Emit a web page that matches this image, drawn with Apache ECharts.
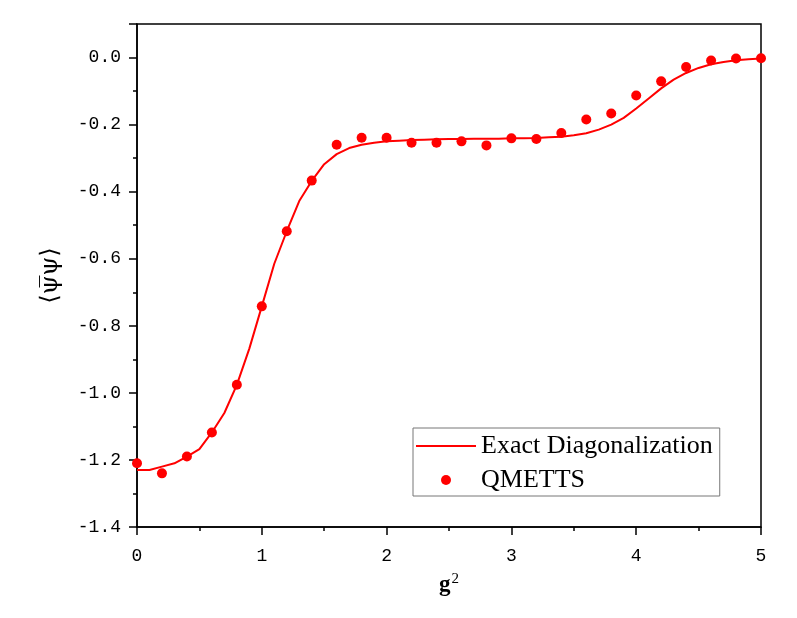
<!DOCTYPE html>
<html>
<head>
<meta charset="utf-8">
<script src="https://cdn.jsdelivr.net/npm/echarts@6/dist/echarts.min.js"></script>
<style>
  html, body { margin: 0; padding: 0; background: #fff; }
  #chart { width: 797px; height: 618px; }
</style>
</head>
<body>
<div id="chart"></div>
<script>
// Exact Diagonalization curve (g^2 step 0.1)
var edX = [];
for (var i = 0; i <= 50; i++) edX.push(+(i * 0.1).toFixed(1));
var edY = [
  -1.230, -1.230, -1.220, -1.210, -1.190, -1.168, -1.118, -1.060, -0.976, -0.868,
  -0.742, -0.615, -0.518, -0.428, -0.368, -0.318, -0.288, -0.270, -0.260, -0.254,
  -0.250, -0.248, -0.246, -0.245, -0.244, -0.243, -0.243, -0.242, -0.242, -0.242,
  -0.241, -0.241, -0.240, -0.238, -0.236, -0.232, -0.226, -0.215, -0.200, -0.180,
  -0.152, -0.122, -0.092, -0.066, -0.046, -0.031, -0.020, -0.013, -0.008, -0.005,
  -0.003
];

// QMETTS points (g^2 step 0.2)
var qmX = [];
for (var j = 0; j <= 25; j++) qmX.push(+(j * 0.2).toFixed(1));
var qmY = [
  -1.210, -1.240, -1.190, -1.118, -0.976, -0.742, -0.518, -0.367, -0.260, -0.239,
  -0.239, -0.254, -0.254, -0.250, -0.262, -0.241, -0.243, -0.225, -0.185, -0.167,
  -0.113, -0.071, -0.028, -0.009, -0.003, -0.002
];

var yTicks = [-1.4, -1.2, -1.0, -0.8, -0.6, -0.4, -0.2, 0.0];

var edData = edX.map(function (x, k) { return [x, edY[k]] })
var qmData = qmX.map(function (x, k) { return [x, qmY[k]] })

var myChart = echarts.init(document.getElementById('chart'))
var option = {
  animation: false,
  backgroundColor: '#fff',
  grid: {
    left: 137, right: 36, top: 24, bottom: 91,
    show: true,
    borderColor: '#000',
    borderWidth: 1.5
  },
  legend: {
    orient: 'vertical',
    left: 413,
    top: 428,
    padding: [5, 7, 3, 3],
    itemGap: 8,
    itemWidth: 60,
    itemHeight: 10,
    borderColor: '#777',
    borderWidth: 1,
    borderRadius: 0,
    textStyle: {
      fontFamily: 'Liberation Serif',
      fontSize: 26,
      color: '#000',
      lineHeight: 26
    },
    data: [
      { name: 'Exact Diagonalization', icon: 'path://M0,0 L60,0 L60,2 L0,2 Z' },
      { name: 'QMETTS', icon: 'circle' }
    ]
  },
  xAxis: {
    type: 'value',
    min: 0,
    max: 5,
    interval: 1,
    name: '{g|g}{s|2}',
    nameLocation: 'middle',
    nameGap: 45,
    nameTextStyle: {
      color: '#000',
      rich: {
        g: { fontFamily: 'Liberation Serif', fontSize: 23, fontWeight: 'bold', color: '#000' },
        s: { fontFamily: 'Liberation Serif', fontSize: 15, color: '#000', verticalAlign: 'bottom', padding: [0, 0, 12, 1] }
      }
    },
    axisLine: { onZero: false, lineStyle: { color: '#000', width: 1.5 } },
    axisTick: { inside: false, length: 8, lineStyle: { color: '#000', width: 1.5 } },
    minorTick: { show: true, splitNumber: 2, length: 4, lineStyle: { color: '#000', width: 1.5 } },
    axisLabel: { margin: 20, fontFamily: 'Liberation Mono', fontSize: 18, color: '#000' },
    splitLine: { show: false }
  },
  yAxis: {
    type: 'value',
    min: -1.4,
    max: 0.1,
    interval: 0.2,
    name: '\u27e8\u03c8\u0305\u03c8\u27e9',
    nameLocation: 'middle',
    nameGap: 74,
    nameTextStyle: { fontFamily: 'DejaVu Serif', fontSize: 24, color: '#000' },
    axisLine: { onZero: false, lineStyle: { color: '#000', width: 1.5 } },
    axisTick: { inside: false, length: 8, lineStyle: { color: '#000', width: 1.5 } },
    minorTick: { show: true, splitNumber: 2, length: 4, lineStyle: { color: '#000', width: 1.5 } },
    axisLabel: {
      margin: 16,
      fontFamily: 'Liberation Mono',
      fontSize: 18,
      color: '#000',
      formatter: function (v) {
        for (var t = 0; t < yTicks.length; t++) {
          if (Math.abs(yTicks[t] - v) < 1e-6) return yTicks[t].toFixed(1)
        }
        return ''
      }
    },
    splitLine: { show: false }
  },
  series: [
    {
      name: 'Exact Diagonalization',
      type: 'line',
      data: edData,
      showSymbol: false,
      symbol: 'none',
      lineStyle: { color: '#ff0000', width: 2 },
      itemStyle: { color: '#ff0000' },
      z: 2
    },
    {
      name: 'QMETTS',
      type: 'scatter',
      data: qmData,
      symbol: 'circle',
      symbolSize: 10,
      itemStyle: { color: '#ff0000', opacity: 1 },
      z: 3
    }
  ]
}
myChart.setOption(option)
</script>
</body>
</html>
